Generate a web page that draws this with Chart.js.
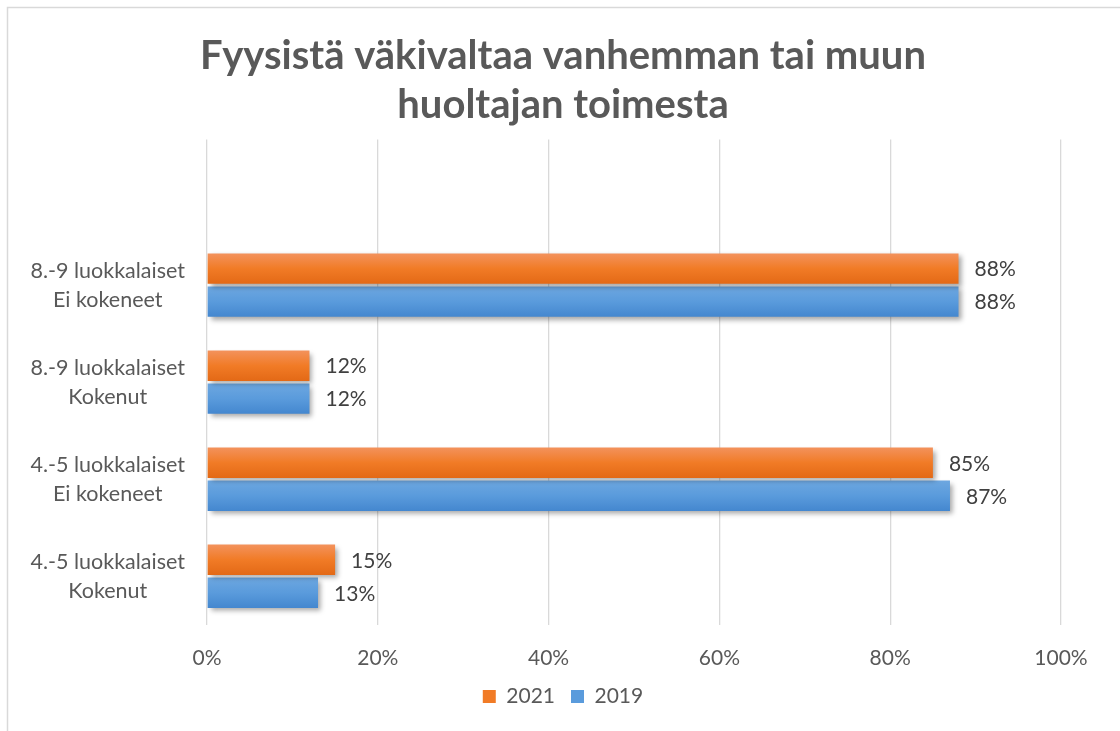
<!DOCTYPE html>
<html>
<head>
<meta charset="utf-8">
<script src="https://cdn.jsdelivr.net/npm/chart.js@4"></script>
<style>
  html, body { margin: 0; padding: 0; background: #fff; }
  #wrap { width: 1120px; height: 731px; }
</style>
</head>
<body>
<div id="wrap"><canvas id="bar" width="1120" height="731"></canvas></div>
<script>
const categories = [
  '',
  ['8.-9 luokkalaiset', 'Ei kokeneet'],
  ['8.-9 luokkalaiset', 'Kokenut'],
  ['4.-5 luokkalaiset', 'Ei kokeneet'],
  ['4.-5 luokkalaiset', 'Kokenut']
];
const values2021 = [null, 88, 12, 85, 15];
const values2019 = [null, 88, 12, 87, 13];
const xTicks = [0, 20, 40, 60, 80, 100];

const FONT = 'Lato, "Open Sans", sans-serif';
const GREY = '#595959';

// gradient per bar, top light -> bottom dark
const gradientBars = {
  id: 'gradientBars',
  beforeDatasetsDraw(chart) {
    const ctx = chart.ctx;
    chart.data.datasets.forEach((ds, i) => {
      const meta = chart.getDatasetMeta(i);
      meta.data.forEach(bar => {
        if (bar.height == null || isNaN(bar.y)) return;
        const top = bar.y - bar.height / 2;
        const g = ctx.createLinearGradient(0, top, 0, top + bar.height);
        g.addColorStop(0, ds.stops[0]);
        g.addColorStop(0.5, ds.stops[1]);
        g.addColorStop(1, ds.stops[2]);
        bar.options.backgroundColor = g;
      });
    });
    ctx.save();
    ctx.shadowColor = 'rgba(0,0,0,0.35)';
    ctx.shadowBlur = 5;
    ctx.shadowOffsetX = 3;
    ctx.shadowOffsetY = 3;
  },
  afterDatasetsDraw(chart) {
    chart.ctx.restore();
  }
};

const valueLabels = {
  id: 'valueLabels',
  afterDatasetsDraw(chart) {
    const ctx = chart.ctx;
    ctx.save();
    ctx.font = '21px ' + FONT;
    ctx.fillStyle = '#404040';
    ctx.textAlign = 'left';
    ctx.textBaseline = 'middle';
    chart.data.datasets.forEach((ds, i) => {
      chart.getDatasetMeta(i).data.forEach((bar, j) => {
        const v = ds.data[j];
        if (v == null) return;
        ctx.fillText(v + '%', bar.x + 16, bar.y + 1);
      });
    });
    ctx.restore();
  }
};

const frame = {
  id: 'frame',
  beforeDraw(chart) {
    const ctx = chart.ctx;
    ctx.save();
    ctx.fillStyle = '#fff';
    ctx.fillRect(0, 0, chart.width, chart.height);
    ctx.strokeStyle = '#d9d9d9';
    ctx.lineWidth = 1.5;
    ctx.strokeRect(7.5, 7.5, 1200, 800);
    ctx.restore();
  }
};

new Chart(document.getElementById('bar'), {
  type: 'bar',
  data: {
    labels: categories,
    datasets: [
      {
        label: '2021',
        data: values2021,
        backgroundColor: () => '#F07D2B',
        stops: ['#F3925C', '#F17B26', '#E36916'],
        categoryPercentage: 0.68,
        barPercentage: 0.92
      },
      {
        label: '2019',
        data: values2019,
        backgroundColor: () => '#5B9BD5',
        stops: ['#6DA7E0', '#5A9BDC', '#4487CF'],
        categoryPercentage: 0.68,
        barPercentage: 0.92
      }
    ]
  },
  options: {
    indexAxis: 'y',
    responsive: false,
    animation: false,
    layout: { padding: { left: 6, right: 0, top: 0, bottom: 14 } },
    scales: {
      x: {
        min: 0,
        max: 100,
        afterBuildTicks(scale) {
          scale.ticks = xTicks.map(v => ({ value: v }));
        },
        afterFit(scale) { scale.height -= 22; },
        grid: { color: '#d9d9d9', lineWidth: 1.3, drawTicks: false },
        border: { display: false },
        ticks: {
          padding: 21,
          color: GREY,
          font: { size: 21, family: FONT },
          callback: v => v + '%'
        }
      },
      y: {
        grid: { display: false, drawTicks: false },
        border: { display: false },
        afterFit(scale) { scale.width = 201; },
        ticks: {
          crossAlign: 'center',
          padding: 22,
          color: GREY,
          font: { size: 21.5, family: FONT, lineHeight: 1.35 }
        }
      },
      // empty right-hand gutter so the plot ends where the original does
      yRight: {
        type: 'category',
        position: 'right',
        grid: { display: false, drawTicks: false },
        border: { display: false },
        ticks: { display: false },
        afterFit(scale) { scale.width = 59; }
      }
    },
    plugins: {
      title: {
        display: true,
        text: ['Fyysistä väkivaltaa vanhemman tai muun', 'huoltajan toimesta'],
        color: GREY,
        font: { size: 40, weight: 'bold', family: FONT, lineHeight: 1.22 },
        padding: { top: 32, bottom: 10 }
      },
      legend: {
        position: 'bottom',
        labels: {
          boxWidth: 13,
          boxHeight: 13,
          color: GREY,
          font: { size: 21, family: FONT },
          padding: 16,
          generateLabels(chart) {
            return chart.data.datasets.map((ds, i) => ({
              text: ds.label,
              fillStyle: ds.stops[1],
              strokeStyle: ds.stops[1],
              lineWidth: 0,
              fontColor: GREY,
              datasetIndex: i
            }));
          }
        }
      },
      tooltip: { enabled: false }
    }
  },
  plugins: [frame, gradientBars, valueLabels]
});
</script>
</body>
</html>
